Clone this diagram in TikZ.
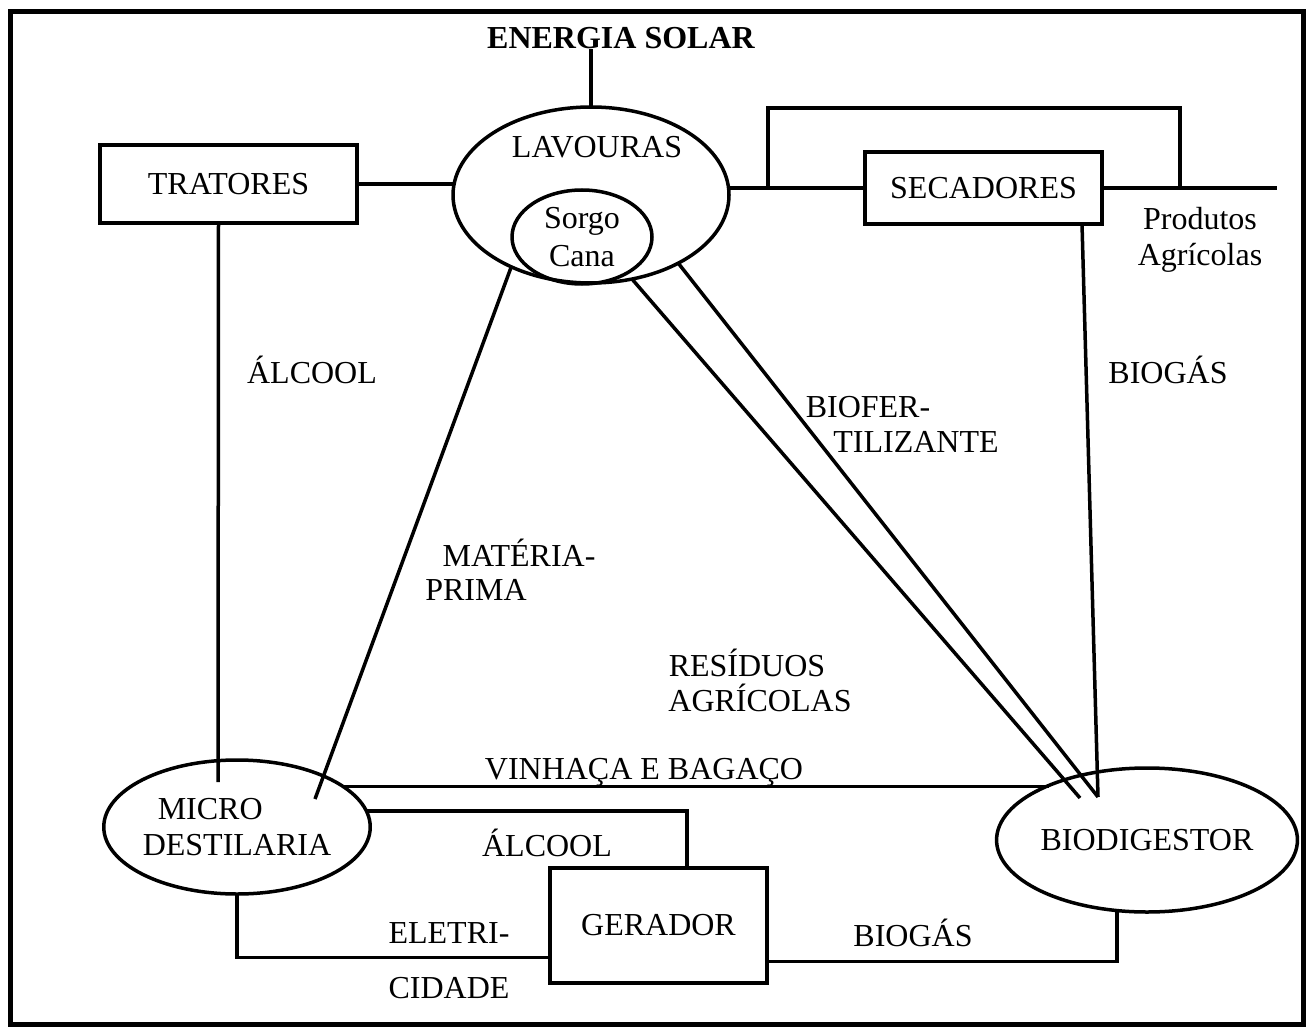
\documentclass[tikz,border=0pt]{standalone}
\usepackage{fontspec}
\setmainfont{Liberation Serif}
\usetikzlibrary{shapes.geometric}

\begin{document}
\begin{tikzpicture}[x=1pt,y=-1pt,
    txt/.style={inner sep=0pt,font=\fontsize{32}{36}\selectfont},
    caixa/.style={txt,draw,line width=3.5pt,outer sep=0pt},
    oval/.style={txt,draw,ellipse,line width=3.5pt,outer sep=0pt},
    liga/.style={line width=3.5pt}]
    \useasboundingbox (0,0) rectangle (1314,1027);
    \draw[line width=5pt] (10,12) rectangle (1303,1024);

    % blocos
    \node[txt,font=\fontsize{32}{36}\selectfont\bfseries] (sol) at (621,38) {ENERGIA SOLAR};
    \node[oval,minimum width=276pt,minimum height=176pt] (lav) at (591,195) {};
    \node[txt] (lavtxt) at (597,147) {LAVOURAS};
    \node[oval,align=center,font=\fontsize{32}{38}\selectfont,minimum width=140pt,minimum height=94pt] (sorgo) at (582,237) {Sorgo\\Cana};
    \node[caixa,minimum width=257pt,minimum height=78pt] (trat) at (228.5,184) {TRATORES};
    \node[caixa,minimum width=237pt,minimum height=72pt] (sec) at (983.5,188) {SECADORES};
    \node[txt,align=center] (prod) at (1200,240) {Produtos\\Agrícolas};
    \node[oval,align=left,minimum width=236pt,minimum height=134pt] (micro) at (237,827) {\hspace*{15pt}MICRO\\DESTILARIA};
    \node[oval,minimum width=260pt,minimum height=144pt] (bio) at (1147,840) {BIODIGESTOR};
    \node[caixa,minimum width=217pt,minimum height=115pt] (ger) at (658.5,925.5) {GERADOR};

    % rotulos
    \node[txt] (alc1) at (312,370) {ÁLCOOL};
    \node[txt] (gas1) at (1168,370) {BIOGÁS};
    \node[txt] (mat1) at (519,553) {MATÉRIA-};
    \node[txt] (mat2) at (476,590) {PRIMA};
    \node[txt] (fer1) at (868,407) {BIOFER-};
    \node[txt] (fer2) at (916,442) {TILIZANTE};
    \node[txt] (res1) at (747,663) {RESÍDUOS};
    \node[txt] (res2) at (760,698) {AGRÍCOLAS};
    \node[txt] (vin) at (644,772) {VINHAÇA E BAGAÇO};
    \node[txt] (alc2) at (547,843) {ÁLCOOL};
    \node[txt] (ele1) at (449,933) {ELETRI-};
    \node[txt] (ele2) at (449,988) {CIDADE};
    \node[txt] (gas2) at (913,933) {BIOGÁS};

    \coordinate (micIn) at (315,799);
    \coordinate (micTop) at (218,782);
    \coordinate (bioV) at (1098,797);
    \coordinate (bioR) at (1080,798);
    \coordinate (brA) at (768,188);
    \coordinate (brB) at (1180,188);
    \coordinate (prodEnd) at (1277,188);

    % ligacoes
    \draw[liga] (lav.north) -- (lav.north |- sol.south);
    \draw[liga] (trat.east) -- (trat.east -| lav.west);
    \draw[liga] (sec.west) -- (sec.west -| lav.east);
    \draw[liga] (brA) -- ++(0,-80) -| (brB);
    \draw[liga] (sec.east) -- (prodEnd);
    \draw[liga] ([xshift=-10pt]trat.south) -- (micTop);
    \draw[liga] ([xshift=-20pt]sec.south east) -- (bioV);
    \draw[liga] (lav.222) -- (micIn);
    \draw[liga] (lav.322) -- (bioV);
    \draw[liga] (lav.296) -- (bioR);
    \draw[liga] (micro.21) -- (micro.21 -| bio.151);
    \draw[liga] (micro.7) -| ([xshift=28.5pt]ger.north);
    \draw[liga] (micro.south) |- ([yshift=-32pt]ger.west);
    \draw[liga] (bio.247) |- ([yshift=-36pt]ger.east);
\end{tikzpicture}
\end{document}
